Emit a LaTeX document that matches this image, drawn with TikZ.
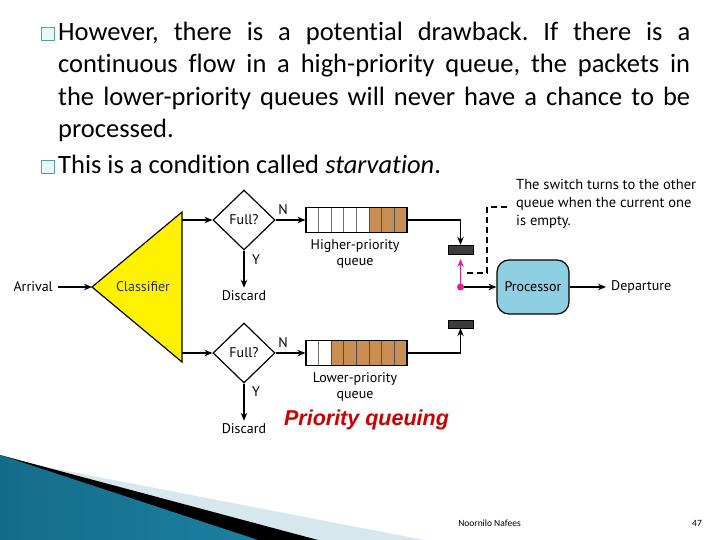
\documentclass[tikz,border=0pt]{standalone}
\usepackage{fontspec}
\setmainfont[Ligatures=NoCommon]{Carlito}
\newfontfamily\dfont{PT Sans}
\newfontfamily\rfont{Liberation Sans}
\usetikzlibrary{shapes.geometric,arrows.meta}
\frenchspacing
\definecolor{qbrown}{RGB}{200,142,82}
\definecolor{clyellow}{RGB}{255,242,0}
\definecolor{procblue}{RGB}{142,208,226}
\definecolor{bargray}{RGB}{60,60,60}
\definecolor{swmag}{RGB}{226,30,140}
\definecolor{titlered}{RGB}{204,0,0}
\definecolor{bulletc}{RGB}{80,160,185}
\definecolor{bulletfill}{RGB}{235,248,250}
\definecolor{tealdark}{RGB}{20,108,138}
\definecolor{teallight}{RGB}{95,188,216}
\definecolor{tealright}{RGB}{28,128,160}
\definecolor{lightband}{RGB}{214,232,238}
\tikzset{
  arr/.style={-{Stealth[length=8pt,width=6.5pt]}, line width=1.2pt},
  lbl/.style={font=\dfont\fontsize{14}{16}\selectfont, inner sep=0},
  note/.style={font=\dfont\fontsize{14.5}{18}\selectfont, inner sep=0, align=left},
  body/.style={font=\fontsize{26.5}{32}\selectfont, inner sep=0, anchor=base west},
  bulletbox/.style={draw=bulletc, fill=bulletfill, line width=1pt, minimum size=13pt, inner sep=0},
  fullbox/.style={diamond, draw, line width=1.2pt, minimum width=62pt, minimum height=60pt, inner sep=0, font=\dfont\fontsize{14}{16}\selectfont},
  switchbar/.style={fill=bargray, draw=black, line width=0.4pt, minimum width=25pt, inner sep=0},
}
\begin{document}
\begin{tikzpicture}[x=1pt,y=-1pt]
\useasboundingbox (0,0) rectangle (720,540);
\fill[white] (0,0) rectangle (720,540);

% bottom-left decoration
\fill[lightband] (0,458) -- (424,540) -- (0,540) -- cycle;
\fill[black] (0,455) -- (318,540) -- (0,540) -- cycle;
\shade[left color=tealdark, middle color=teallight, right color=tealright]
  (0,455) -- (258,540) -- (0,540) -- cycle;

% bullets and body text
\node[bulletbox] (b1box) at (48,34) {};
\node[bulletbox] (b2box) at (48,167) {};
\node[body] (l1) at (58,40.5) {\makebox[632pt][s]{However, there is a potential drawback. If there is a}};
\node[body] (l2) at (58,73) {\makebox[632pt][s]{continuous flow in a high-priority queue, the packets in}};
\node[body] (l3) at (58,105.5) {\makebox[632pt][s]{the lower-priority queues will never have a chance to be}};
\node[body] (l4) at (58,137.5) {processed.};
\node[body] (l5) at (58,174) {This is a condition called \textit{starvation}.};

% classifier
\coordinate (tv) at (92,287);
\coordinate (ttop) at (182,212);
\coordinate (tbot) at (182,362);
\draw[fill=clyellow, line width=1.2pt, line join=miter] (tv) -- (ttop) -- (tbot) -- cycle;
\node[lbl, text=black!80] (cls) at (143,287) {Classifier};
\coordinate (cout1) at (182,220);
\coordinate (cout2) at (182,353);

\node[lbl, anchor=east] (arrival) at (53,287) {Arrival};
\draw[arr] ([xshift=5pt]arrival.east) -- (tv);

% decisions
\node[fullbox] (d1) at (244,220) {Full?};
\node[fullbox] (d2) at (244,353) {Full?};
\draw[arr] (cout1) -- (d1.west);
\draw[arr] (cout2) -- (d2.west);

\node[lbl] (disc1) at (244,296) {Discard};
\node[lbl] (disc2) at (244,429) {Discard};
\draw[arr] (d1.south) -- ([yshift=3pt]disc1.north);
\draw[arr] (d2.south) -- ([yshift=3pt]disc2.north);
\node[lbl] (y1) at (256,260) {Y};
\node[lbl] (y2) at (256,392) {Y};
\node[lbl] (n1) at (283,210) {N};
\node[lbl] (n2) at (283,343) {N};

% queues
\foreach \i in {0,...,7} {
  \pgfmathsetmacro{\xa}{306+\i*12.625}
  \pgfmathsetmacro{\xb}{306+(\i+1)*12.625}
  \ifnum\i>4
    \filldraw[fill=qbrown, draw=black!70, line width=0.8pt] (\xa,207.5) rectangle (\xb,232.5);
  \else
    \draw[draw=black!55, line width=0.8pt] (\xa,207.5) rectangle (\xb,232.5);
  \fi
  \ifnum\i>1
    \filldraw[fill=qbrown, draw=black!70, line width=0.8pt] (\xa,340.5) rectangle (\xb,365.5);
  \else
    \draw[draw=black!55, line width=0.8pt] (\xa,340.5) rectangle (\xb,365.5);
  \fi
}
\node[draw, line width=1.2pt, minimum width=101pt, minimum height=25pt, inner sep=0] (qh) at (356.5,220) {};
\node[draw, line width=1.2pt, minimum width=101pt, minimum height=25pt, inner sep=0] (ql) at (356.5,353) {};
\draw[arr] (d1.east) -- (qh.west);
\draw[arr] (d2.east) -- (ql.west);
\node[lbl, align=center] (qhl) at (355,254) {Higher-priority\\queue};
\node[lbl, align=center] (qll) at (355,387) {Lower-priority\\queue};

% switch
\node[switchbar, minimum height=9pt] (bar1) at (460.5,249.5) {};
\node[switchbar, minimum height=8pt] (bar2) at (460.5,324) {};
\draw[arr] (qh.east) -| (bar1.north);
\draw[arr] (ql.east) -| (bar2.south);
\node[circle, fill=swmag, inner sep=0, minimum size=7pt] (sw) at (460.5,287) {};
\coordinate (swtip) at (460.5,259);
\draw[-{Stealth[length=8pt,width=6.5pt]}, line width=1.2pt, draw=swmag, fill=swmag] (sw.center) -- (swtip);

% processor
\node[draw, line width=1.2pt, fill=procblue, rounded corners=12pt, minimum width=72pt, minimum height=54pt, lbl] (proc) at (533,287) {Processor};
\draw[arr] (sw) -- (proc.west);
\node[lbl, anchor=west] (dep) at (611,287) {Departure};
\draw[arr] (proc.east) -- ([xshift=-5pt]dep.west);

% note
\node[note, anchor=north west] (nt) at (516,179) {The switch turns to the other\\queue when the current one\\is empty.};
\coordinate (da) at (467,273);
\coordinate (db) at (487,273);
\coordinate (dc) at (487,207);
\coordinate (dd) at (509,207);
\draw[dashed, dash pattern=on 6pt off 4pt, line width=1.1pt] (da) -- (db) -- (dc) -- (dd);

% title
\node[inner sep=0, font=\rfont\fontsize{21.5}{24}\selectfont\bfseries\itshape, text=titlered] (title) at (366.5,420) {Priority queuing};

% footer
\node[inner sep=0, font=\fontsize{9.5}{11}\selectfont] (auth) at (489.5,523) {Noornilo Nafees};
\node[inner sep=0, font=\fontsize{9.5}{11}\selectfont] (pg) at (697,523) {47};
\end{tikzpicture}
\end{document}
